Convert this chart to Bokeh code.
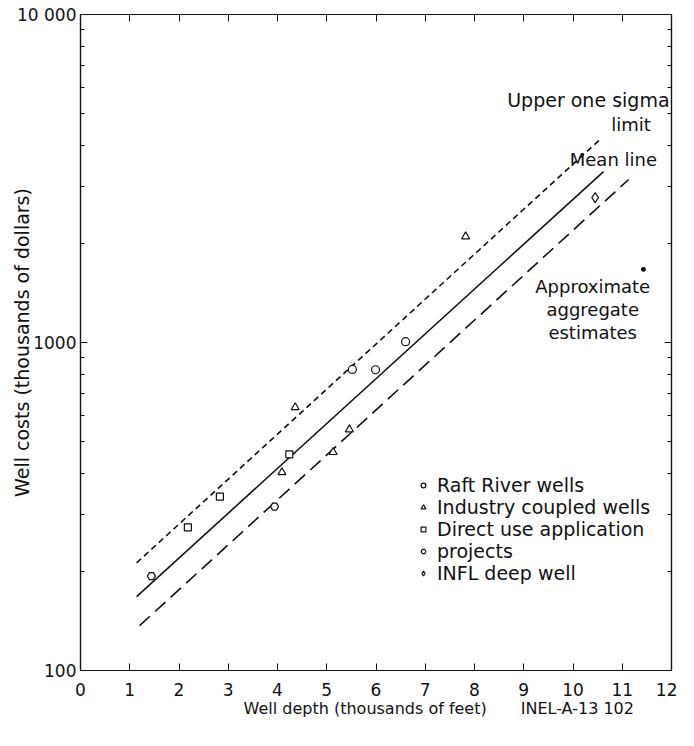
from bokeh.plotting import figure
from bokeh.models import (Range1d, LogAxis, LinearAxis, FixedTicker, Label, Legend, LegendItem,
                          CustomJSTickFormatter)
from bokeh.embed import file_html
from bokeh.resources import INLINE

# ---- data (depth in thousands of feet, cost in thousands of dollars) ----
raft_x = [5.52, 5.99, 6.60]
raft_y = [828, 826, 1006]
industry_x = [4.09, 4.36, 5.13, 5.46, 7.82]
industry_y = [402, 634, 463, 543, 2105]
direct_x = [2.18, 2.83, 4.24]
direct_y = [273, 339, 456]
projects_x = [1.44, 3.94]
projects_y = [194, 316]
infl_x = [10.45]
infl_y = [2766]
aggregate_x = [11.43]
aggregate_y = [1671]

mean_x = [1.14, 10.62]
mean_y = [168, 3320]
upper_x = [1.14, 10.55]
upper_y = [213, 4160]
lower_x = [1.20, 11.13]
lower_y = [137, 3140]

x_ticks = list(range(0, 13))
y_ticks = [100, 1000, 10000]
y_tick_labels = {100: "100", 1000: "1000", 10000: "10 000"}
y_minor = [v * m for m in (100, 1000) for v in range(2, 10)]

x_title = "Well depth (thousands of feet)"
figure_id = "INEL-A-13  102"
caption_ticks = [5.78, 10.14]

FONT = "DejaVu Sans"
INK = "#111111"

p = figure(frame_width=591, frame_height=656, output_backend="svg", toolbar_location=None,
           y_axis_type="log", x_range=Range1d(0, 12), y_range=Range1d(100, 10000),
           min_border_left=80, min_border_right=6, min_border_top=14, min_border_bottom=50,
           x_axis_location=None, y_axis_location=None)
p.grid.visible = False
p.outline_line_color = INK
p.outline_line_width = 1.2
p.background_fill_color = "white"

blank = CustomJSTickFormatter(code="return ''")

# axes
xb = LinearAxis(ticker=FixedTicker(ticks=x_ticks))
yl = LogAxis(ticker=FixedTicker(ticks=y_ticks, minor_ticks=y_minor))
yl.axis_label = "Well costs (thousands of dollars)"
yl.major_label_overrides = y_tick_labels
xt = LinearAxis(ticker=FixedTicker(ticks=x_ticks), formatter=blank)
yr = LogAxis(ticker=FixedTicker(ticks=y_ticks, minor_ticks=y_minor), formatter=blank)
for ax in (xb, yl, xt, yr):
    ax.axis_line_color = INK
    ax.axis_line_width = 1.2
    ax.major_tick_line_color = INK
    ax.minor_tick_line_color = INK
    ax.major_tick_in = 7
    ax.major_tick_out = 0
    ax.minor_tick_in = 4
    ax.minor_tick_out = 0
    ax.major_label_text_font = FONT
    ax.major_label_text_font_size = "17px"
    ax.major_label_text_color = INK
    ax.axis_label_text_font = FONT
    ax.axis_label_text_font_style = "normal"
    ax.axis_label_text_color = INK
yl.axis_label_text_font_size = "19px"
xb.major_label_standoff = 12
yl.major_label_standoff = 4
yl.axis_label_standoff = -19
xt.major_label_standoff = 0
yr.major_label_standoff = 0
xt.minor_tick_in = 0
p.add_layout(xb, "below")
p.add_layout(yl, "left")
p.add_layout(xt, "above")
p.add_layout(yr, "right")

# second bottom axis carrying the x title and the figure id as text
xc = LinearAxis(ticker=FixedTicker(ticks=caption_ticks, minor_ticks=[]))
xc.major_label_overrides = {caption_ticks[0]: x_title, caption_ticks[1]: figure_id}
xc.axis_line_color = None
xc.major_tick_line_color = None
xc.minor_tick_line_color = None
xc.major_tick_out = 0
xc.major_tick_in = 0
xc.major_label_standoff = 0
xc.major_label_text_font = FONT
xc.major_label_text_font_size = "16px"
xc.major_label_text_color = INK
p.add_layout(xc, "below")

# trend lines
p.line(upper_x, upper_y, line_color=INK, line_width=1.6, line_dash="6 4")
p.line(mean_x, mean_y, line_color=INK, line_width=1.6)
p.line(lower_x, lower_y, line_color=INK, line_width=1.6, line_dash="14 7")

# data points
r1 = p.scatter(raft_x, raft_y, marker="circle", size=8, fill_color="white", line_color=INK, line_width=1.2)
r2 = p.scatter(industry_x, industry_y, marker="triangle", size=8, fill_color="white", line_color=INK, line_width=1.2)
r3 = p.scatter(direct_x, direct_y, marker="square", size=7, fill_color="white", line_color=INK, line_width=1.2)
r4 = p.scatter(projects_x, projects_y, marker="hex", size=8, fill_color="white", line_color=INK, line_width=1.2)
r5 = p.scatter(infl_x, infl_y, marker="diamond", size=10, fill_color="white", line_color=INK, line_width=1.2)
p.scatter(aggregate_x, aggregate_y, marker="circle", size=4, fill_color=INK, line_color=INK)

legend = Legend(items=[
    LegendItem(label="Raft River wells", renderers=[r1]),
    LegendItem(label="Industry coupled wells", renderers=[r2]),
    LegendItem(label="Direct use application", renderers=[r3]),
    LegendItem(label="projects", renderers=[r4]),
    LegendItem(label="INFL deep well", renderers=[r5]),
], location=(337, 86), border_line_color=None, background_fill_alpha=0,
    padding=0, margin=0, spacing=0, glyph_width=12, glyph_height=16, label_height=22,
    label_standoff=8, label_text_font=FONT, label_text_font_size="19px", label_text_color=INK)
p.add_layout(legend, "center")

def add_label(x, y, text, align="center", size="18px"):
    p.add_layout(Label(x=x, y=y, text=text, text_font=FONT, text_font_size=size,
                       text_color=INK, text_align=align, text_baseline="middle"))

add_label(11.96, 5470, "Upper one sigma", align="right", size="19px")
add_label(11.18, 4625, "limit")
add_label(10.82, 3615, "Mean line")
add_label(10.40, 1483, "Approximate")
add_label(10.40, 1261, "aggregate")
add_label(10.40, 1072, "estimates")

open("out.html", "w").write(file_html(p, INLINE))
